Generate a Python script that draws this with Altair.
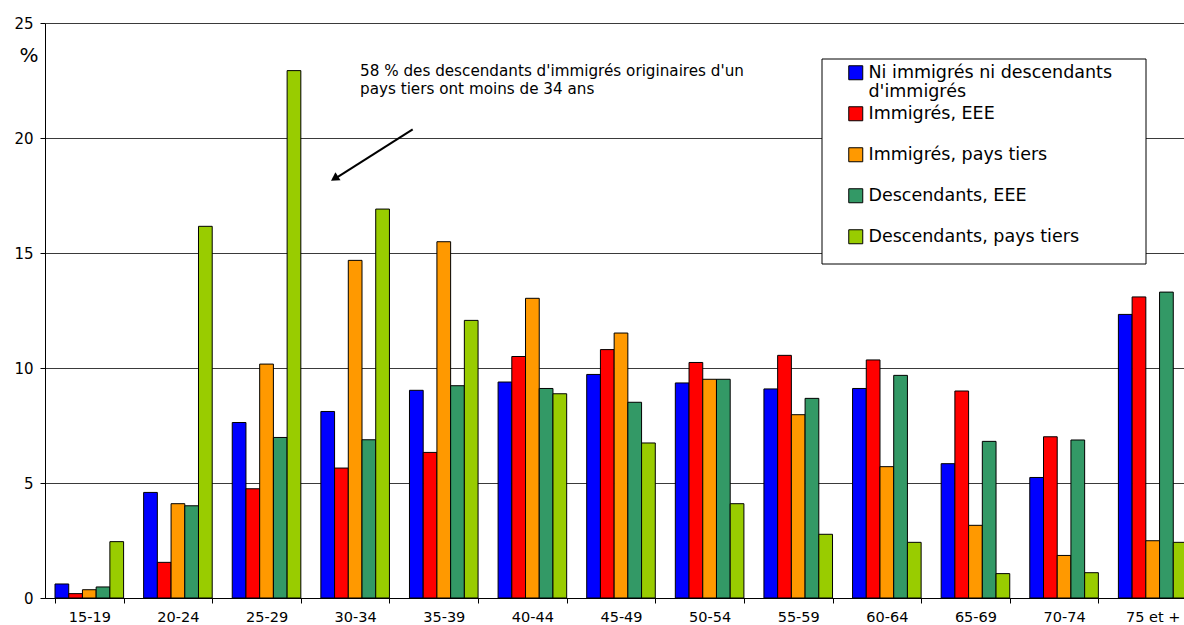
import altair as alt
import pandas as pd

# Age groups on the x axis
age_groups = ["15-19", "20-24", "25-29", "30-34", "35-39", "40-44", "45-49",
              "50-54", "55-59", "60-64", "65-69", "70-74", "75 et +"]

# Population groups (legend order)
series_names = [
    "Ni immigrés ni descendants d'immigrés",
    "Immigrés, EEE",
    "Immigrés, pays tiers",
    "Descendants, EEE",
    "Descendants, pays tiers",
]

# Share of each age group, in %
ni_immigres = [0.61, 4.59, 7.63, 8.11, 9.03, 9.39, 9.72, 9.35, 9.09, 9.11, 5.84, 5.24, 12.33]
immigres_eee = [0.19, 1.55, 4.75, 5.65, 6.33, 10.50, 10.80, 10.24, 10.55, 10.35, 9.00, 7.01, 13.09]
immigres_tiers = [0.36, 4.10, 10.17, 14.68, 15.49, 13.03, 11.52, 9.51, 7.97, 5.71, 3.16, 1.85, 2.49]
descendants_eee = [0.48, 4.01, 6.98, 6.88, 9.23, 9.11, 8.51, 9.51, 8.68, 9.68, 6.81, 6.87, 13.30]
descendants_tiers = [2.45, 16.16, 22.93, 16.91, 12.07, 8.88, 6.74, 4.10, 2.77, 2.42, 1.06, 1.10, 2.42]

colors = ["#0000FF", "#FF0000", "#FF9900", "#339966", "#99CC00"]

y_ticks = [0, 5, 10, 15, 20, 25]

annotation_lines = ["58 % des descendants d'immigrés originaires d'un",
                    "pays tiers ont moins de 34 ans"]

FONT = "DejaVu Sans"

series_values = [ni_immigres, immigres_eee, immigres_tiers, descendants_eee, descendants_tiers]
rows = []
for name, values in zip(series_names, series_values):
    for grp, v in zip(age_groups, values):
        rows.append({"groupe": grp, "serie": name, "pct": v})
df = pd.DataFrame(rows)

one_row = pd.DataFrame({"k": [0]})

first_label = series_names[0]
label_expr = (
    "datum.label === \"" + first_label.replace('"', '\\"') + "\""
    " ? [\"Ni immigrés ni descendants\", \"d'immigrés\"] : datum.label"
)

bars = alt.Chart(df).mark_bar(stroke="black", strokeWidth=1).encode(
    x=alt.X(
        "groupe:N",
        sort=age_groups,
        scale=alt.Scale(range=[0, 1152], paddingInner=0.226, paddingOuter=0.113),
        axis=alt.Axis(
            title=None, labelAngle=0, labelFont=FONT, labelFontSize=14.5,
            labelColor="black", labelPadding=7, tickBand="extent",
            tickColor="black", tickSize=5, domainColor="black", grid=False,
        ),
    ),
    xOffset=alt.XOffset(
        "serie:N", sort=series_names,
        scale=alt.Scale(paddingInner=0, paddingOuter=0),
    ),
    y=alt.Y(
        "pct:Q",
        scale=alt.Scale(domain=[0, 25], nice=False),
        axis=alt.Axis(
            title=None, values=y_ticks, labelFont=FONT, labelFontSize=15,
            labelColor="black", labelPadding=7, tickColor="black", tickSize=5,
            domainColor="black", grid=True, gridColor="#3a3a3a", gridWidth=1,
        ),
    ),
    color=alt.Color(
        "serie:N",
        sort=series_names,
        scale=alt.Scale(domain=series_names, range=colors),
        legend=alt.Legend(
            title=None, orient="none", legendX=802, legendY=41,
            symbolType="square", symbolSize=196, symbolStrokeColor="black",
            symbolStrokeWidth=1, labelFont=FONT, labelFontSize=17.5,
            labelColor="black", labelLimit=500, labelOffset=4, padding=0,
            rowPadding=3, gridAlign="all", labelExpr=label_expr,
        ),
    ),
)

# Frame around the legend
legend_box = alt.Chart(one_row).mark_rect(
    fill="white", stroke="black", strokeWidth=1
).encode(
    x=alt.value(777), x2=alt.value(1101), y=alt.value(36), y2=alt.value(241)
)

# Unit label above the y axis
unit_label = alt.Chart(one_row).mark_text(
    text="%", font=FONT, fontSize=20, color="black", align="center", baseline="middle"
).encode(x=alt.value(-16), y=alt.value(33))

# Annotation text and arrow
note = alt.Chart(one_row).mark_text(
    text=annotation_lines, font=FONT, fontSize=15.2, lineHeight=17.6,
    color="black", align="left", baseline="middle"
).encode(x=alt.value(315), y=alt.value(48))

arrow_line = alt.Chart(one_row).mark_rule(color="black", strokeWidth=2).encode(
    x=alt.value(367.7), y=alt.value(106.3), x2=alt.value(290.1), y2=alt.value(155.6)
)

arrow_head = alt.Chart(one_row).mark_point(
    shape="triangle-up", filled=True, color="black", size=90, angle=237.6, opacity=1
).encode(x=alt.value(289.5), y=alt.value(155.5))

chart = alt.layer(bars, legend_box, unit_label, note, arrow_line, arrow_head).properties(
    width=1139,
    height=575,
    autosize=alt.AutoSizeParams(type="none"),
    padding={"left": 45, "top": 23, "right": 0, "bottom": 27},
    background="white",
).configure_view(stroke=None)

chart.save("out.html", embed_options={"renderer": "svg", "actions": False})
